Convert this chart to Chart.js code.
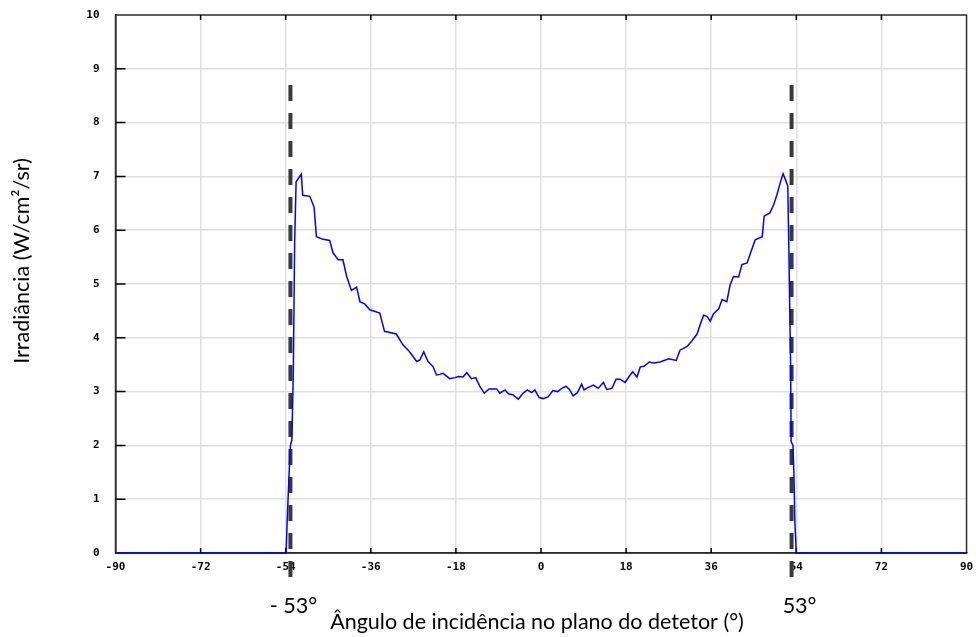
<!DOCTYPE html>
<html>
<head>
<meta charset="utf-8">
<script src="https://cdn.jsdelivr.net/npm/chart.js@4.4.1/dist/chart.umd.min.js"></script>
<style>
  html, body { margin: 0; padding: 0; background: #fff; }
  #wrap { width: 976px; height: 637px; }
</style>
</head>
<body>
<div id="wrap"><canvas id="irradianceChart" width="976" height="637"></canvas></div>
<script>
// incidence angle on the detector plane (degrees)
const angleDeg = [-90, -53.9, -53.7, -53.3, -53.0, -52.7, -52.4, -52.1, -51.8, -50.7,
    -50.4, -48.9, -48.0, -47.5, -46.1, -44.7, -44.0, -42.9, -41.9, -41.1,
    -40.1, -39.0, -38.3, -37.3, -36.2, -34.1, -33.1, -30.6, -29.2, -27.8,
    -26.3, -25.6, -24.8, -23.9, -22.8, -22.1, -21.4, -20.7, -19.3, -18.2,
    -17.5, -16.5, -15.7, -14.7, -13.8, -12.9, -12.0, -11.0, -9.4, -8.7,
    -7.6, -6.9, -5.9, -4.8, -3.9, -2.9, -2.0, -1.3, -0.4, 0.5,
    1.5, 2.5, 3.5, 4.4, 5.3, 6.0, 6.8, 7.7, 8.6, 9.1,
    10.0, 11.1, 12.1, 13.2, 13.9, 15.0, 15.9, 16.7, 17.8, 18.7,
    19.4, 20.3, 21.0, 21.8, 22.9, 23.8, 25.2, 27.0, 28.6, 29.4,
    30.9, 31.9, 33.0, 33.7, 34.4, 35.1, 35.8, 36.5, 37.6, 38.3,
    39.3, 40.0, 40.7, 41.8, 42.5, 43.6, 44.3, 45.3, 46.8, 47.2,
    48.4, 49.2, 49.9, 50.6, 51.2, 51.7, 52.2, 52.4, 52.8, 52.9,
    53.3, 53.5, 53.7, 54.0, 90];

// measured irradiance (W/cm2/sr)
const irradiance = [0, 0, 0.57, 1.43, 2.0, 2.1, 3.3, 5.8, 6.9, 7.04,
    6.65, 6.63, 6.43, 5.88, 5.83, 5.81, 5.58, 5.45, 5.45, 5.14,
    4.88, 4.94, 4.67, 4.63, 4.52, 4.46, 4.12, 4.07, 3.87, 3.74,
    3.56, 3.59, 3.74, 3.56, 3.46, 3.31, 3.32, 3.34, 3.24, 3.26,
    3.28, 3.27, 3.35, 3.24, 3.26, 3.09, 2.97, 3.05, 3.05, 2.97,
    3.03, 2.96, 2.94, 2.86, 2.96, 3.03, 2.98, 3.03, 2.89, 2.87,
    2.90, 3.02, 3.00, 3.06, 3.10, 3.04, 2.92, 2.98, 3.14, 3.03,
    3.08, 3.12, 3.06, 3.17, 3.04, 3.06, 3.23, 3.23, 3.17, 3.29,
    3.37, 3.27, 3.46, 3.47, 3.55, 3.53, 3.55, 3.61, 3.58, 3.77,
    3.84, 3.94, 4.07, 4.25, 4.42, 4.40, 4.31, 4.45, 4.54, 4.71,
    4.67, 4.98, 5.14, 5.13, 5.36, 5.39, 5.57, 5.82, 5.88, 6.26,
    6.32, 6.47, 6.66, 6.88, 7.05, 6.94, 6.82, 5.77, 3.49, 2.07,
    2.0, 1.46, 0.57, 0, 0];

// acceptance limits marked with dashed lines
const limitAngles = [-53, 53];
const limitLabels = ["- 53°", "53°"];
const limitSpan = [-0.45, 8.7];   // dashed line runs between these irradiance values

const xTicks = { min: -90, max: 90, step: 18 };
const yTicks = { min: 0, max: 10, step: 1 };

const tickFont = { family: "DejaVu Sans Mono", size: 11, weight: "bold" };
const titleFont = "21.5px Lato";

// frame, inward tick marks, dashed limits and titles
const decorations = {
    id: "decorations",
    beforeDatasetsDraw(chart) {
        const ctx = chart.ctx;
        const a = chart.chartArea;
        const xs = chart.scales.x, ys = chart.scales.y;

        ctx.save();
        ctx.strokeStyle = "#333";
        ctx.lineWidth = 1.5;
        ctx.strokeRect(a.left, a.top, a.right - a.left, a.bottom - a.top);

        ctx.strokeStyle = "#000";
        ctx.beginPath();
        for (let v = yTicks.min + yTicks.step; v < yTicks.max; v += yTicks.step) {
            const py = ys.getPixelForValue(v);
            ctx.moveTo(a.left, py);
            ctx.lineTo(a.left + 10, py);
        }
        for (let v = xTicks.min + xTicks.step; v < xTicks.max; v += xTicks.step) {
            const px = xs.getPixelForValue(v);
            ctx.moveTo(px, a.bottom);
            ctx.lineTo(px, a.bottom - 5);
            ctx.moveTo(px, a.top);
            ctx.lineTo(px, a.top + 5);
        }
        ctx.stroke();

        ctx.strokeStyle = "#3a3a3a";
        ctx.lineWidth = 4;
        ctx.setLineDash([16, 12]);
        limitAngles.forEach(function (ang) {
            const px = xs.getPixelForValue(ang);
            ctx.beginPath();
            ctx.moveTo(px, ys.getPixelForValue(limitSpan[1]));
            ctx.lineTo(px, ys.getPixelForValue(limitSpan[0]));
            ctx.stroke();
        });
        ctx.restore();
    },
    afterDraw(chart) {
        const ctx = chart.ctx;
        const xs = chart.scales.x;
        ctx.save();
        ctx.fillStyle = "#000";
        ctx.font = titleFont;
        ctx.textAlign = "center";
        ctx.textBaseline = "middle";

        ctx.fillText("Ângulo de incidência no plano do detetor (°)", 537, 622);
        ctx.fillText(limitLabels[0], xs.getPixelForValue(limitAngles[0]) + 3, 606);
        ctx.fillText(limitLabels[1], xs.getPixelForValue(limitAngles[1]) + 8, 606);

        ctx.translate(22, 261);
        ctx.rotate(-Math.PI / 2);
        ctx.fillText("Irradiância (W/cm²/sr)", 0, 0);
        ctx.restore();
    }
};

const points = angleDeg.map(function (a, i) { return { x: a, y: irradiance[i] }; });

new Chart(document.getElementById("irradianceChart").getContext("2d"), {
    type: "line",
    data: {
        datasets: [{
            data: points,
            borderColor: "#0000ff",
            borderWidth: 1.5,
            pointRadius: 0,
            tension: 0,
            fill: false,
            clip: false
        }]
    },
    options: {
        responsive: false,
        devicePixelRatio: 1,
        animation: false,
        layout: { autoPadding: false, padding: { left: 75, top: 15, right: 9.5, bottom: 54 } },
        plugins: { legend: { display: false }, tooltip: { enabled: false } },
        scales: {
            x: {
                type: "linear",
                min: xTicks.min,
                max: xTicks.max,
                ticks: { stepSize: xTicks.step, color: "#000", font: tickFont, padding: 8, maxRotation: 0, autoSkip: false },
                grid: { color: "#e0e0e0", lineWidth: 1.5, drawTicks: false },
                border: { color: "#222", width: 1.5 },
                afterFit: function (s) { s.height = 30; s.paddingLeft = 0; s.paddingRight = 0; }
            },
            y: {
                type: "linear",
                min: yTicks.min,
                max: yTicks.max,
                ticks: { stepSize: yTicks.step, color: "#000", font: tickFont, padding: 16 },
                grid: { color: "#e0e0e0", lineWidth: 1.5, drawTicks: false },
                border: { color: "#000", width: 1.5 },
                afterFit: function (s) { s.width = 40.5; s.paddingTop = 0; s.paddingBottom = 0; }
            }
        }
    },
    plugins: [decorations]
});
</script>
</body>
</html>
